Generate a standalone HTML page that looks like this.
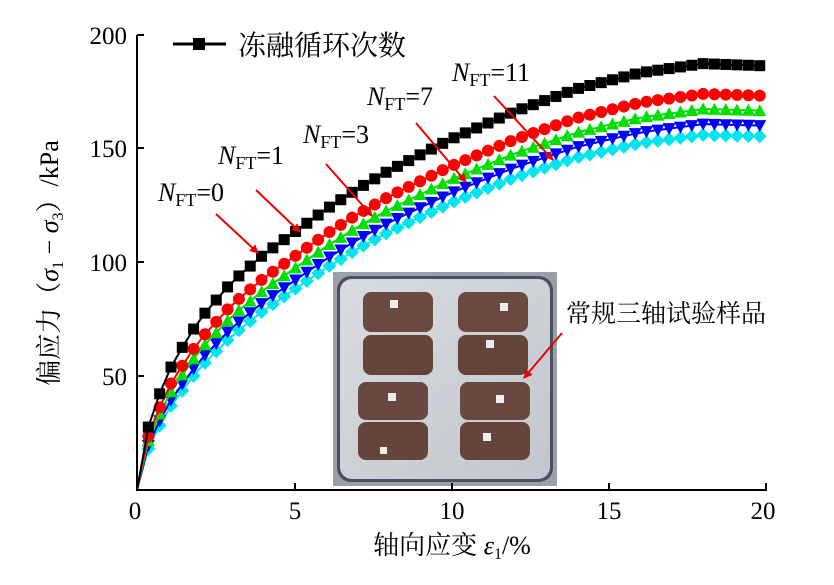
<!DOCTYPE html>
<html><head><meta charset="utf-8"><style>
body{margin:0;background:#fff;width:834px;height:580px;overflow:hidden}
svg text{font-family:"Liberation Serif","Noto Serif CJK SC",serif;fill:#000}
</style></head><body>
<svg id="s" width="834" height="580" xmlns="http://www.w3.org/2000/svg">
<defs>
<marker id="ah" markerWidth="9" markerHeight="9" refX="8" refY="4.5" orient="auto" markerUnits="userSpaceOnUse"><path d="M0,0 L9,4.5 L0,9 z" fill="#e00"/></marker>
<linearGradient id="tray" x1="0" y1="0" x2="1" y2="1"><stop offset="0" stop-color="#d8dbe0"/><stop offset="1" stop-color="#c2c7cd"/></linearGradient>
</defs>
<g id="curves"></g>
<!-- photo -->
<g>
<rect x="333" y="272" width="224" height="214" fill="#9aa0aa"/>
<rect x="337" y="276" width="216" height="206" rx="14" fill="#4a5064"/>
<rect x="340" y="279" width="210" height="200" rx="12" fill="url(#tray)"/>
<rect x="363" y="292" width="70" height="40" rx="8" fill="#6a4a40"/>
<rect x="363" y="335" width="70" height="40" rx="8" fill="#654539"/>
<rect x="458" y="292" width="70" height="40" rx="8" fill="#6a4a40"/>
<rect x="458" y="335" width="70" height="40" rx="8" fill="#654539"/>
<rect x="358" y="382" width="70" height="38" rx="8" fill="#684840"/>
<rect x="358" y="422" width="70" height="38" rx="8" fill="#654539"/>
<rect x="460" y="382" width="70" height="38" rx="8" fill="#684840"/>
<rect x="460" y="422" width="70" height="38" rx="8" fill="#654539"/>
<rect x="390" y="300" width="8" height="8" fill="#eee"/><rect x="500" y="303" width="8" height="8" fill="#eee"/>
<rect x="486" y="340" width="8" height="8" fill="#eee"/><rect x="388" y="393" width="8" height="8" fill="#eee"/>
<rect x="496" y="395" width="8" height="8" fill="#eee"/><rect x="483" y="433" width="8" height="8" fill="#eee"/>
<rect x="380" y="447" width="7" height="7" fill="#eee"/>
</g>
<!-- axes -->
<line x1="137" y1="35" x2="137" y2="491" stroke="#000" stroke-width="2"/>
<line x1="136" y1="490" x2="767" y2="490" stroke="#000" stroke-width="2"/>
<g stroke="#000" stroke-width="2">
<line x1="137" y1="376" x2="144" y2="376"/><line x1="137" y1="262" x2="144" y2="262"/><line x1="137" y1="148" x2="144" y2="148"/><line x1="137" y1="35" x2="144" y2="35"/>
<line x1="295" y1="490" x2="295" y2="483"/><line x1="452" y1="490" x2="452" y2="483"/><line x1="609" y1="490" x2="609" y2="483"/><line x1="766" y1="490" x2="766" y2="483"/>
</g>
<g font-size="25" text-anchor="end">
<text x="127" y="385">50</text><text x="127" y="271">100</text><text x="127" y="157">150</text><text x="127" y="44">200</text>
</g>
<g font-size="25" text-anchor="middle">
<text x="135" y="519">0</text><text x="295" y="519">5</text><text x="452" y="519">10</text><text x="609" y="519">15</text><text x="763" y="519">20</text>
</g>
<text x="452" y="554" font-size="26" text-anchor="middle">轴向应变 <tspan font-style="italic">ε</tspan><tspan font-size="16" dy="5">1</tspan><tspan dy="-5">/%</tspan></text>
<text transform="translate(58,263) rotate(-90)" font-size="26" text-anchor="middle">偏应力（<tspan font-style="italic">σ</tspan><tspan font-size="16" dy="5">1</tspan><tspan dy="-5"> − </tspan><tspan font-style="italic">σ</tspan><tspan font-size="16" dy="5">3</tspan><tspan dy="-5">）/kPa</tspan></text>
<!-- legend -->
<line x1="173" y1="44" x2="226" y2="44" stroke="#000" stroke-width="3"/><rect x="193" y="38" width="12" height="12" fill="#000"/>
<text x="238" y="55" font-size="28">冻融循环次数</text>
<!-- labels -->
<g font-size="26">
<text x="158" y="201"><tspan font-style="italic">N</tspan><tspan font-size="18" dy="5">FT</tspan><tspan dy="-5">=0</tspan></text>
<text x="218" y="164"><tspan font-style="italic">N</tspan><tspan font-size="18" dy="5">FT</tspan><tspan dy="-5">=1</tspan></text>
<text x="303" y="143"><tspan font-style="italic">N</tspan><tspan font-size="18" dy="5">FT</tspan><tspan dy="-5">=3</tspan></text>
<text x="367" y="105"><tspan font-style="italic">N</tspan><tspan font-size="18" dy="5">FT</tspan><tspan dy="-5">=7</tspan></text>
<text x="452" y="81"><tspan font-style="italic">N</tspan><tspan font-size="18" dy="5">FT</tspan><tspan dy="-5">=11</tspan></text>
</g>
<text x="566" y="322" font-size="25">常规三轴试验样品</text>
<g stroke="#e00" stroke-width="2" fill="none" marker-end="url(#ah)">
<line x1="216" y1="214" x2="258" y2="253"/>
<line x1="256" y1="190" x2="300" y2="232"/>
<line x1="326" y1="164" x2="372" y2="216"/>
<line x1="416" y1="123" x2="466" y2="182"/>
<line x1="494" y1="96" x2="553" y2="160"/>
<line x1="562" y1="333" x2="524" y2="378"/>
</g>
</svg>
<script>
var P=[[0,0],[0.3,25],[0.6,38],[1,52],[1.5,64],[2,75],[3,91],[4,103],[5,113],[6,123],[7,132],[8,140],[10,154],[12,166],[14,176],[16,183],[18,187],[20,186]];
function f(x){for(var i=1;i<P.length;i++){if(x<=P[i][0]){var a=P[i-1],b=P[i],t=(x-a[0])/(b[0]-a[0]);return a[1]+t*(b[1]-a[1]);}}return 186;}
function X(x){return 137+x*31.45} function Y(y){return 490-y*2.28}
var S=[{c:"#00e5f0",k:0.835,m:"d"},{c:"#0000ff",k:0.86,m:"v"},{c:"#00e000",k:0.895,m:"t"},{c:"#ff0000",k:0.93,m:"c"},{c:"#000",k:1,m:"s"}];
var g=document.getElementById("curves"),h="";
S.forEach(function(s){var pts=[];for(var x=0;x<=19.9;x+=0.36){var k=1-(1-s.k)*(1+1.2*Math.exp(-x/4));pts.push([X(x),Y(f(x)*k)]);}
h+='<polyline fill="none" stroke="'+s.c+'" stroke-width="2" points="'+pts.map(function(p){return p[0].toFixed(1)+","+p[1].toFixed(1)}).join(" ")+'"/>';
pts.forEach(function(p,i){if(i==0)return;var x=p[0],y=p[1];
if(s.m=="s")h+='<rect x="'+(x-5.5)+'" y="'+(y-5.5)+'" width="11" height="11" fill="#000"/>';
else if(s.m=="c")h+='<circle cx="'+x+'" cy="'+y+'" r="6" fill="#f00"/>';
else if(s.m=="t")h+='<path d="M'+x+','+(y-6.5)+' L'+(x+6.5)+','+(y+5.5)+' L'+(x-6.5)+','+(y+5.5)+'z" fill="#00e000"/>';
else if(s.m=="v")h+='<path d="M'+x+','+(y+6.5)+' L'+(x+6.5)+','+(y-5.5)+' L'+(x-6.5)+','+(y-5.5)+'z" fill="#0000ff"/>';
else h+='<path d="M'+x+','+(y-7)+' L'+(x+7)+','+y+' L'+x+','+(y+7)+' L'+(x-7)+','+y+'z" fill="#00e5f0"/>';});});
g.innerHTML=h;
</script>
</body></html>
